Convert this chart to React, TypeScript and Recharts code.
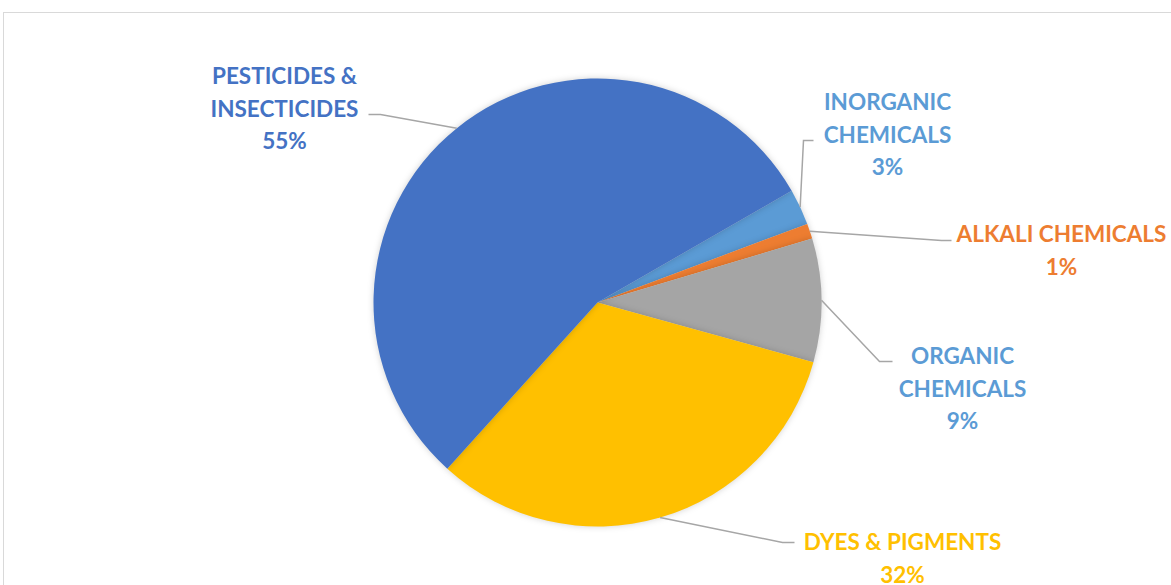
import React from "react";
import { PieChart, Pie, Cell } from "recharts";

// categories in drawing order (clockwise from the upper right)
const categories = [
  "INORGANIC\nCHEMICALS",
  "ALKALI CHEMICALS",
  "ORGANIC\nCHEMICALS",
  "DYES & PIGMENTS",
  "PESTICIDES &\nINSECTICIDES",
];
const shares = [2.6, 1.1, 8.9, 32.4, 55.0];

const sliceColors = ["#5B9BD5", "#ED7D31", "#A5A5A5", "#FFC000", "#4472C4"];
const labelColors = ["#5B9BD5", "#ED7D31", "#5B9BD5", "#FFC000", "#4472C4"];

// label layout, offsets in px from the pie centre
const labelLayout = [
  { tx: 290, ty: -201, ex: 216, ey: -162, elbow: -10 },
  { tx: 464, ty: -69, ex: 354, ey: -62, elbow: -10 },
  { tx: 365, ty: 53, ex: 295, ey: 59, elbow: -13 },
  { tx: 305, ty: 239, ex: 197, ey: 240, elbow: -12 },
  { tx: -313, ty: -227, ex: -229, ey: -188, elbow: 12 },
];

const data = categories.map((name, i) => ({ name, value: shares[i] }));

const RAD = Math.PI / 180;
const LINE_H = 32.5;

const renderLabel = (props: any) => {
  const { cx, cy, midAngle, outerRadius, index, percent } = props;
  const sx = cx + outerRadius * Math.cos(-midAngle * RAD);
  const sy = cy + outerRadius * Math.sin(-midAngle * RAD);
  const lp = labelLayout[index];
  const ex = cx + lp.ex;
  const ey = cy + lp.ey;
  const bx = ex + lp.elbow;
  const lines = [...categories[index].split("\n"), `${Math.round(percent * 100)}%`];
  return (
    <g>
      <polyline
        points={`${sx},${sy} ${bx},${ey} ${ex},${ey}`}
        fill="none"
        stroke="#A6A6A6"
        strokeWidth={1.5}
      />
      {lines.map((t, k) => (
        <text
          key={k}
          x={cx + lp.tx}
          y={cy + lp.ty + k * LINE_H}
          textAnchor="middle"
          dominantBaseline="central"
          fill={labelColors[index]}
          fontFamily="Lato, sans-serif"
          fontWeight={700}
          fontSize={22.5}
        >
          {t}
        </text>
      ))}
    </g>
  );
};

export default function App() {
  return (
    <div
      style={{
        position: "fixed",
        left: 0,
        top: 0,
        width: 1171,
        height: 585,
        overflow: "hidden",
        background: "#fff",
      }}
    >
      <style>{`.recharts-pie-sector path { filter: drop-shadow(0 0 3px rgba(0,0,0,0.18)); }`}</style>
      <div
        style={{
          position: "absolute",
          left: 3,
          top: 12,
          width: 1200,
          height: 620,
          border: "1.5px solid #D9D9D9",
        }}
      />
      <div style={{ position: "absolute", left: 0, top: 0 }}>
        <PieChart width={1171} height={585} margin={{ top: 0, right: 0, bottom: 0, left: 0 }}>
          <Pie
            data={data}
            dataKey="value"
            nameKey="name"
            cx={597.5}
            cy={302.5}
            outerRadius={224}
            startAngle={29.9}
            endAngle={29.9 - 360}
            stroke="none"
            label={renderLabel}
            labelLine={false}
            isAnimationActive={false}
          >
            {data.map((d, i) => (
              <Cell key={d.name} fill={sliceColors[i]} />
            ))}
          </Pie>
        </PieChart>
      </div>
    </div>
  );
}
